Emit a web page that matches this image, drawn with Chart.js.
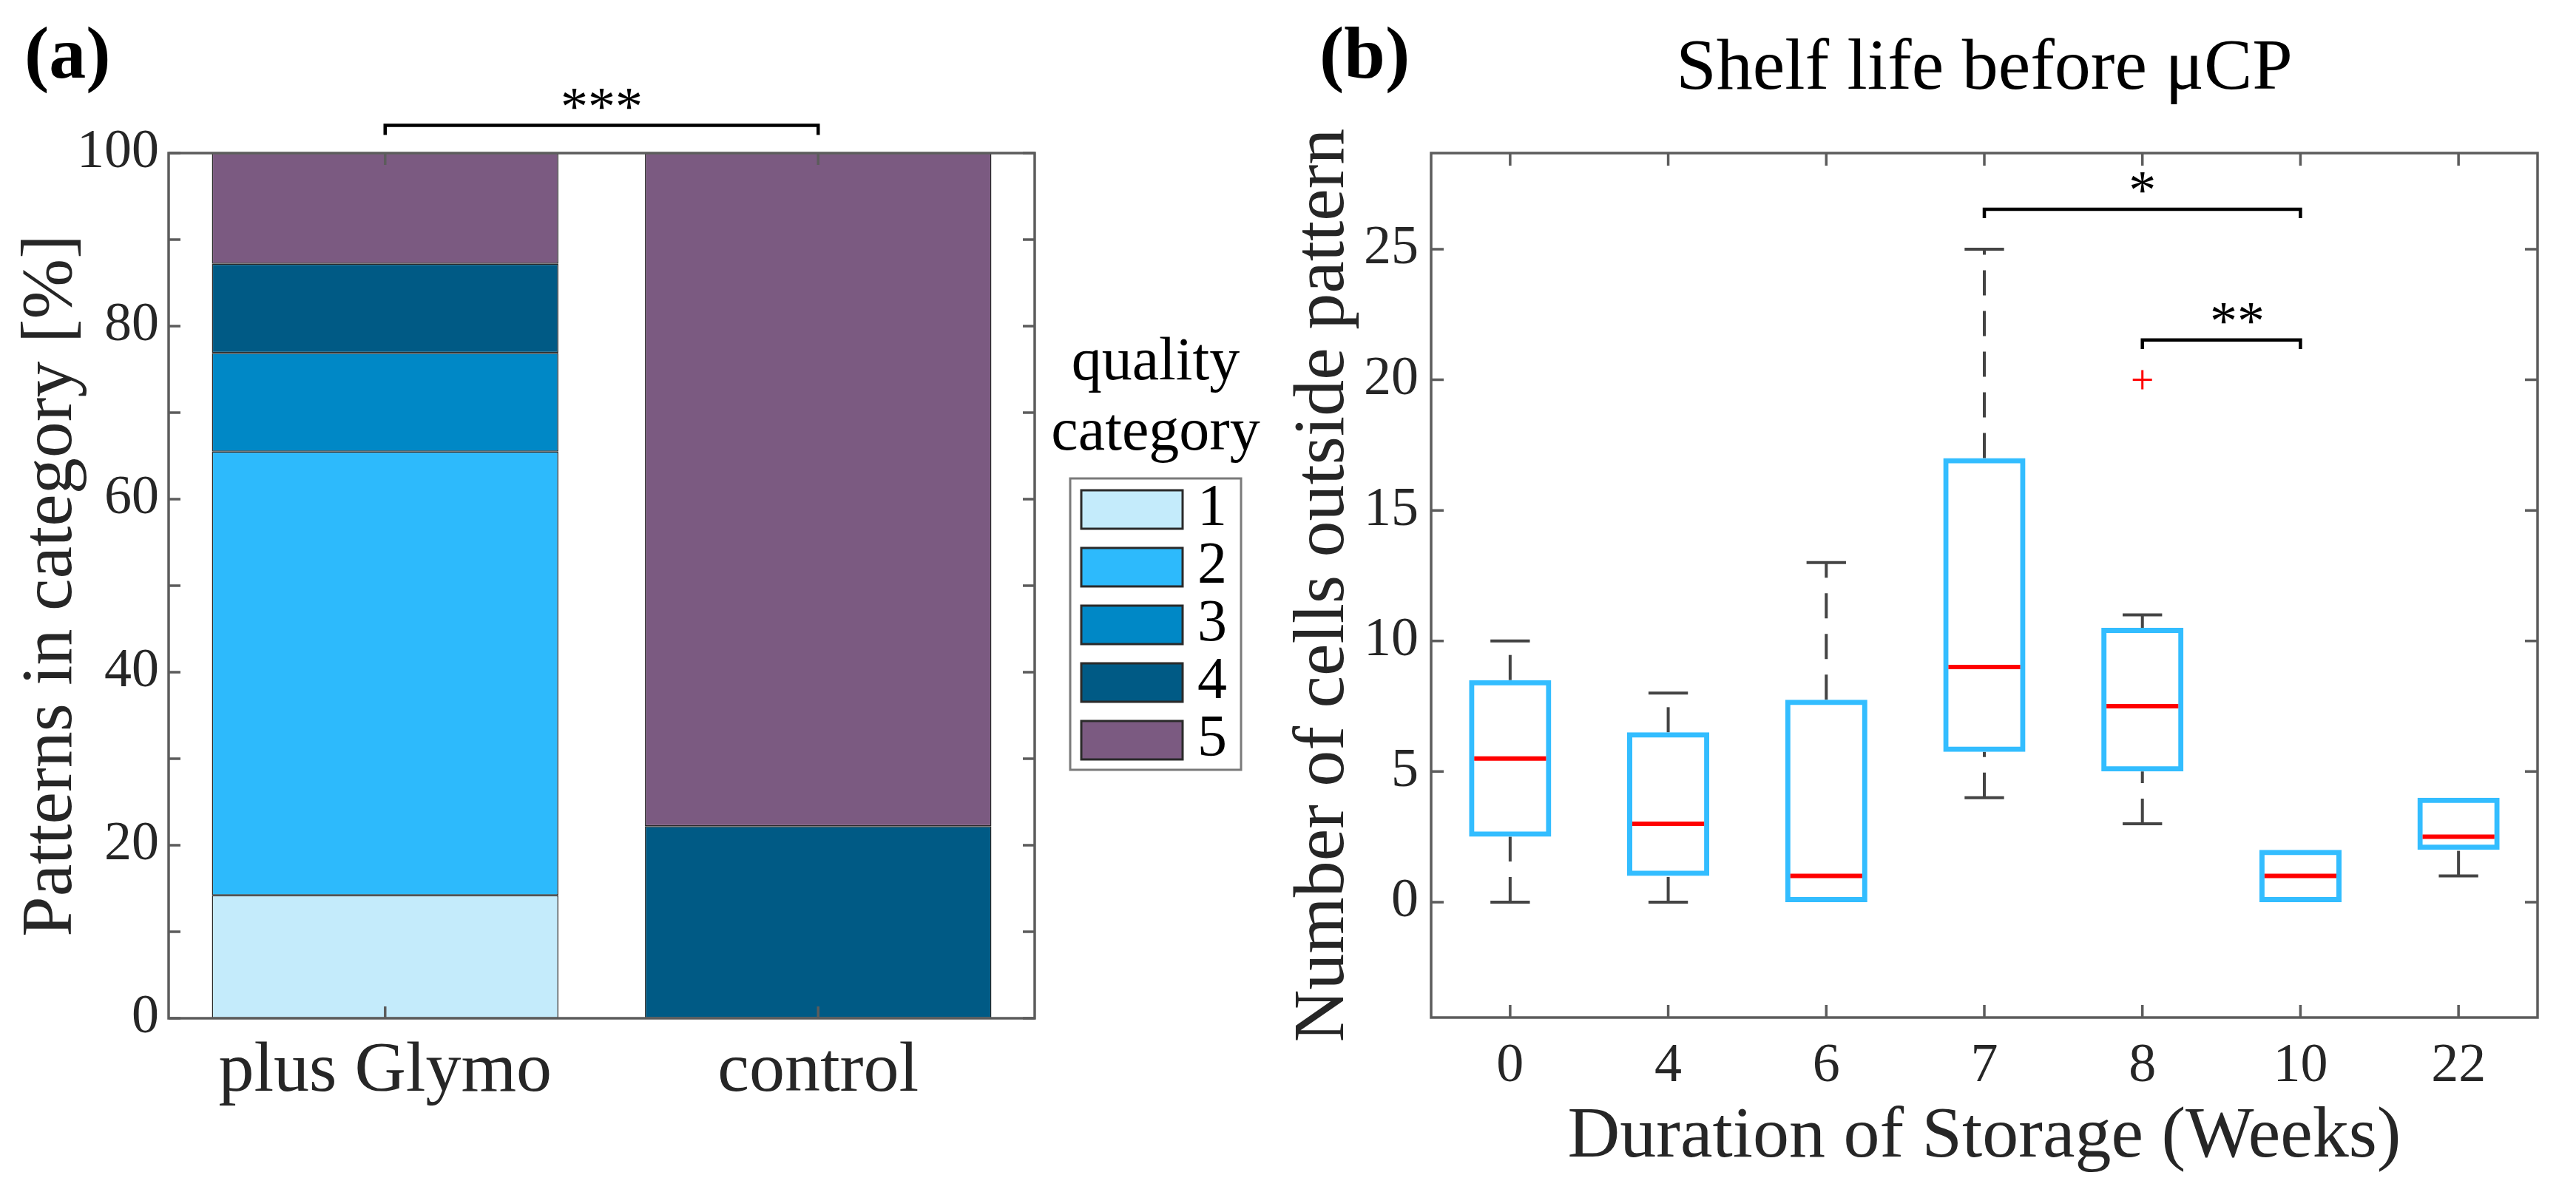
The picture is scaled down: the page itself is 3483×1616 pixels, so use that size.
<!DOCTYPE html>
<html><head><meta charset="utf-8">
<script src="https://cdn.jsdelivr.net/npm/chart.js@4.4.0/dist/chart.umd.min.js"></script>
<style>
html,body{margin:0;padding:0;background:#fff;overflow:hidden;}
#wrap{position:relative;width:3483px;height:1616px;background:#fff;}
canvas{position:absolute;top:0;}
#c1{left:0;} #c2{left:1720px;}
</style></head><body>
<div id="wrap"><canvas id="c1" width="1720" height="1616"></canvas><canvas id="c2" width="1763" height="1616"></canvas></div>
<script>
// ---------- data: panel (a) ----------
const groups = ['plus Glymo', 'control'];
const qualityLabels = ['1', '2', '3', '4', '5'];
const cat1 = [14.2, null];
const cat2 = [51.3, null];
const cat3 = [11.4, null];
const cat4 = [10.3, 22.2];
const cat5 = [12.8, 77.8];
const leftBrackets = [{from: 0, to: 1, y: 103.2, legEnd: 102.1, label: '***'}];

// ---------- data: panel (b) ----------
const weeks = ['0', '4', '6', '7', '8', '10', '22'];
const whiskerLow = [0, 0, 0, 4, 3, 0, 1];
const q1 = [2.5, 1, 0, 5.75, 5, 0, 2];
const medians = [5.5, 3, 1, 9, 7.5, 1, 2.5];
const q3 = [8.5, 6.5, 7.75, 17, 10.5, 2, 4];
const whiskerHigh = [10, 8, 13, 25, 11, 2, 4];
const outlierWeeks = ['8'];
const outlierValues = [20];
const yTicksRight = [0, 5, 10, 15, 20, 25];
const rightBrackets = [
  {from: 3, to: 5, y: 26.53, legEnd: 26.19, label: '*'},
  {from: 4, to: 5, y: 21.52, legEnd: 21.18, label: '**', labelAt: 4.6}
];

// ---------- styles ----------
const FONT = "'Liberation Serif', 'Times New Roman', serif";
const qualityColors = ['#C4EBFB', '#2DBAFC', '#0088C6', '#005A85', '#7B5A81'];
const BOX = '#33BDFF';
const AXIS = '#5c5c5c';
const TXT = '#262626';

// ---------- plugins ----------
const frameTicks = {
  id: 'frameTicks',
  afterDraw(chart, args, o) {
    const {ctx, chartArea: a} = chart;
    const x = chart.scales.x, y = chart.scales.y;
    ctx.save();
    ctx.strokeStyle = o.color; ctx.lineWidth = o.width; ctx.setLineDash([]);
    ctx.beginPath();
    y.ticks.forEach(t => {
      const py = y.getPixelForValue(t.value);
      ctx.moveTo(a.left, py); ctx.lineTo(a.left + o.len, py);
      ctx.moveTo(a.right, py); ctx.lineTo(a.right - o.len, py);
    });
    x.ticks.forEach((t, i) => {
      const px = x.getPixelForTick(i);
      ctx.moveTo(px, a.top); ctx.lineTo(px, a.top + o.len);
      ctx.moveTo(px, a.bottom); ctx.lineTo(px, a.bottom - o.len);
    });
    ctx.stroke();
    ctx.strokeRect(a.left, a.top, a.right - a.left, a.bottom - a.top);
    ctx.restore();
  }
};

const sigBrackets = {
  id: 'sigBrackets',
  afterDraw(chart, args, o) {
    const {ctx} = chart;
    const x = chart.scales.x, y = chart.scales.y;
    ctx.save();
    ctx.strokeStyle = '#000'; ctx.fillStyle = '#000';
    ctx.lineWidth = o.lineWidth; ctx.lineJoin = 'miter';
    ctx.font = o.size + 'px ' + FONT;
    ctx.textAlign = 'center'; ctx.textBaseline = 'alphabetic';
    o.items.forEach(b => {
      const x1 = x.getPixelForValue(b.from), x2 = x.getPixelForValue(b.to);
      const yb = y.getPixelForValue(b.y), yl = y.getPixelForValue(b.legEnd);
      ctx.beginPath();
      ctx.moveTo(x1, yl); ctx.lineTo(x1, yb); ctx.lineTo(x2, yb); ctx.lineTo(x2, yl);
      ctx.stroke();
      const lx = x.getPixelForValue(b.labelAt !== undefined ? b.labelAt : (b.from + b.to) / 2);
      ctx.fillText(b.label, lx, yb - o.gap);
    });
    ctx.restore();
  }
};

const panelLabel = {
  id: 'panelLabel',
  afterDraw(chart, args, o) {
    const {ctx} = chart;
    ctx.save();
    ctx.font = 'bold ' + o.size + 'px ' + FONT;
    ctx.fillStyle = '#000'; ctx.textAlign = 'left'; ctx.textBaseline = 'alphabetic';
    ctx.fillText(o.text, o.x, o.y);
    ctx.restore();
  }
};

const qualityLegend = {
  id: 'qualityLegend',
  afterDraw(chart, args, o) {
    const {ctx} = chart;
    ctx.save();
    ctx.fillStyle = '#000';
    ctx.font = o.titleSize + 'px ' + FONT;
    ctx.textAlign = 'center'; ctx.textBaseline = 'alphabetic';
    const cx = o.left + o.width / 2;
    o.title.forEach((t, i) => ctx.fillText(t, cx, o.titleY[i]));
    ctx.lineWidth = 3; ctx.strokeStyle = '#7a7a7a';
    ctx.fillStyle = '#fff';
    ctx.fillRect(o.left, o.top, o.width, o.height);
    ctx.strokeRect(o.left, o.top, o.width, o.height);
    ctx.font = o.labelSize + 'px ' + FONT;
    ctx.textAlign = 'left'; ctx.textBaseline = 'middle';
    chart.data.datasets.forEach((ds, i) => {
      const sy = o.top + o.padTop + i * o.rowH;
      const sx = o.left + o.padLeft;
      ctx.fillStyle = ds.backgroundColor;
      ctx.fillRect(sx, sy, o.swW, o.swH);
      ctx.strokeStyle = '#2a2a2a'; ctx.lineWidth = 3;
      ctx.strokeRect(sx, sy, o.swW, o.swH);
      ctx.fillStyle = '#000';
      ctx.fillText(ds.label, sx + o.swW + o.gap, sy + o.swH / 2);
    });
    ctx.restore();
  }
};

const boxExtras = {
  id: 'boxExtras',
  beforeDatasetsDraw(chart, args, o) {
    const {ctx} = chart;
    const x = chart.scales.x, y = chart.scales.y;
    const meta = chart.getDatasetMeta(0);
    ctx.save();
    ctx.strokeStyle = o.whiskerColor; ctx.lineWidth = o.whiskerWidth; ctx.lineCap = 'butt';
    weeks.forEach((w, i) => {
      const px = x.getPixelForValue(i);
      const bw = meta.data[i].width;
      ctx.setLineDash(o.dash);
      if (whiskerLow[i] < q1[i]) {
        ctx.beginPath();
        ctx.moveTo(px, y.getPixelForValue(whiskerLow[i])); ctx.lineTo(px, y.getPixelForValue(q1[i]));
        ctx.stroke();
      }
      if (whiskerHigh[i] > q3[i]) {
        ctx.beginPath();
        ctx.moveTo(px, y.getPixelForValue(q3[i])); ctx.lineTo(px, y.getPixelForValue(whiskerHigh[i]));
        ctx.stroke();
      }
      ctx.setLineDash([]);
      ctx.beginPath();
      if (whiskerLow[i] < q1[i]) {
        const py = y.getPixelForValue(whiskerLow[i]);
        ctx.moveTo(px - bw * o.capFrac / 2, py); ctx.lineTo(px + bw * o.capFrac / 2, py);
      }
      if (whiskerHigh[i] > q3[i]) {
        const py = y.getPixelForValue(whiskerHigh[i]);
        ctx.moveTo(px - bw * o.capFrac / 2, py); ctx.lineTo(px + bw * o.capFrac / 2, py);
      }
      ctx.stroke();
    });
    ctx.restore();
  },
  afterDatasetsDraw(chart, args, o) {
    const {ctx} = chart;
    const x = chart.scales.x, y = chart.scales.y;
    const meta = chart.getDatasetMeta(0);
    ctx.save();
    ctx.strokeStyle = o.medianColor; ctx.lineWidth = o.medianWidth;
    ctx.beginPath();
    weeks.forEach((w, i) => {
      const px = x.getPixelForValue(i);
      const half = meta.data[i].width / 2 - o.inset;
      const py = y.getPixelForValue(medians[i]);
      ctx.moveTo(px - half, py); ctx.lineTo(px + half, py);
    });
    ctx.stroke();
    ctx.restore();
  }
};

// ---------- chart (a) ----------
const catValues = [cat1, cat2, cat3, cat4, cat5];
new Chart(document.getElementById('c1'), {
  type: 'bar',
  data: {
    labels: groups,
    datasets: qualityLabels.map((lab, i) => ({
      label: lab, data: catValues[i], backgroundColor: qualityColors[i],
      borderColor: '#262626', borderWidth: 1.5, borderSkipped: false,
      barPercentage: 0.8, categoryPercentage: 1
    }))
  },
  options: {
    responsive: false, animation: false,
    layout: {padding: {top: 207, right: 321, left: 0, bottom: 0}},
    plugins: {
      legend: {display: false}, tooltip: {enabled: false}, title: {display: false},
      frameTicks: {color: AXIS, width: 3.5, len: 16},
      sigBrackets: {items: leftBrackets, lineWidth: 4.5, size: 74, gap: 1},
      panelLabel: {text: '(a)', x: 33, y: 105, size: 100},
      qualityLegend: {left: 1447, top: 647, width: 231, height: 394, padTop: 16, padLeft: 15,
        swW: 137, swH: 52, rowH: 78, gap: 20, labelSize: 80, titleSize: 82,
        title: ['quality', 'category'], titleY: [513, 608]}
    },
    scales: {
      x: {
        stacked: true,
        grid: {display: false, drawTicks: false, tickLength: 0}, border: {display: false},
        ticks: {font: {family: FONT, size: 96}, color: TXT, padding: 15, maxRotation: 0, autoSkip: false},
        afterFit(s) { s.height = 239; }
      },
      y: {
        stacked: true, min: 0, max: 100,
        grid: {display: false, drawTicks: false, tickLength: 0}, border: {display: false},
        ticks: {stepSize: 10, font: {family: FONT, size: 74}, color: TXT, padding: 13, autoSkip: false,
          callback: v => (v % 20 === 0 ? v : '')},
        title: {display: true, text: 'Patterns in category [%]', font: {family: FONT, size: 98}, color: TXT,
          padding: {top: 11, bottom: 0}},
        afterFit(s) { s.width = 228; }
      }
    }
  },
  plugins: [frameTicks, sigBrackets, panelLabel, qualityLegend]
});

// ---------- chart (b) ----------
new Chart(document.getElementById('c2'), {
  type: 'bar',
  data: {
    labels: weeks,
    datasets: [
      {
        type: 'bar', label: 'Interquartile range',
        data: weeks.map((w, i) => [q1[i], q3[i]]),
        backgroundColor: 'rgba(255,255,255,0)', borderColor: BOX, borderWidth: 7,
        borderSkipped: false, barPercentage: 0.52, categoryPercentage: 1, order: 2
      },
      {
        type: 'line', label: 'Outliers',
        data: weeks.map(w => { const k = outlierWeeks.indexOf(w); return k >= 0 ? outlierValues[k] : null; }),
        showLine: false, pointStyle: 'cross', pointRadius: 13, pointBorderColor: '#FF0000',
        pointBorderWidth: 3, order: 1
      }
    ]
  },
  options: {
    responsive: false, animation: false,
    layout: {padding: {top: 0, right: 52, left: 0, bottom: 0}},
    plugins: {
      legend: {display: false}, tooltip: {enabled: false},
      title: {display: true, text: 'Shelf life before μCP', fullSize: false,
        font: {family: FONT, size: 98, weight: 'normal'}, color: '#000',
        padding: {top: 35, bottom: 54.4}},
      frameTicks: {color: AXIS, width: 3.5, len: 17},
      sigBrackets: {items: rightBrackets, lineWidth: 4.5, size: 74, gap: 1},
      panelLabel: {text: '(b)', x: 64, y: 105, size: 100},
      boxExtras: {whiskerColor: '#444', whiskerWidth: 4, dash: [34, 21], capFrac: 0.48,
        medianColor: '#FF0000', medianWidth: 6, inset: 7}
    },
    scales: {
      x: {
        grid: {display: false, drawTicks: false, tickLength: 0}, border: {display: false},
        ticks: {font: {family: FONT, size: 74}, color: TXT, padding: 22, maxRotation: 0, autoSkip: false},
        title: {display: true, text: 'Duration of Storage (Weeks)', font: {family: FONT, size: 98}, color: TXT,
          padding: {top: 0, bottom: 19}},
        afterFit(s) { s.height = 240; }
      },
      y: {
        min: -4.42, max: 28.68,
        grid: {display: false, drawTicks: false, tickLength: 0}, border: {display: false},
        ticks: {font: {family: FONT, size: 74}, color: TXT, padding: 17, autoSkip: false},
        afterBuildTicks(s) { s.ticks = yTicksRight.map(v => ({value: v})); },
        title: {display: true, text: 'Number of cells outside pattern', font: {family: FONT, size: 98}, color: TXT,
          padding: {top: 11, bottom: 0}},
        afterFit(s) { s.width = 215; }
      }
    }
  },
  plugins: [boxExtras, frameTicks, sigBrackets, panelLabel]
});
</script></body></html>
